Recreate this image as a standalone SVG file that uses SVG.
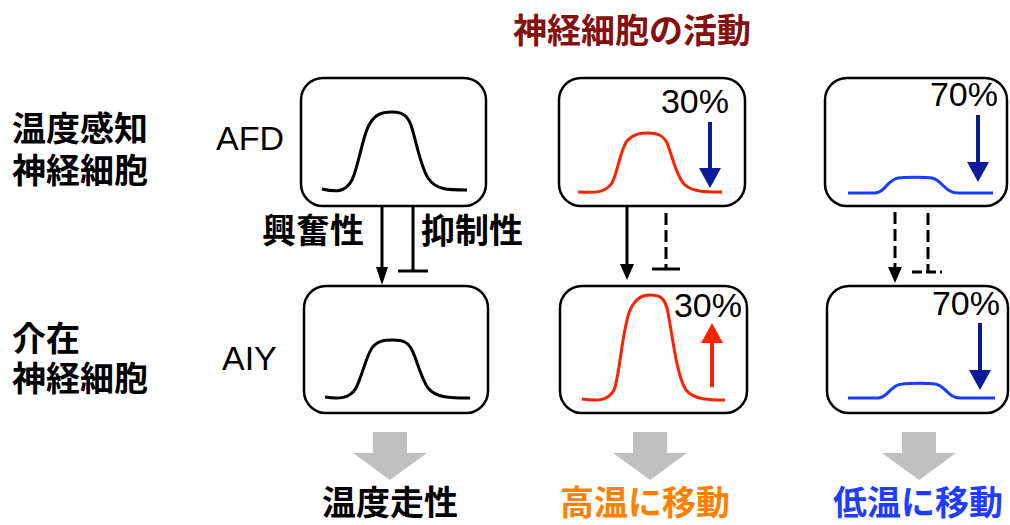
<svg xmlns="http://www.w3.org/2000/svg" width="1010" height="525" viewBox="0 0 1010 525">
<style>
.box{fill:#fff;stroke:#000;stroke-width:2.5}
.cj{font-family:"Noto Sans CJK JP","Noto Sans CJK SC",sans-serif;font-weight:bold;font-size:34px}
.lat{font-family:"Liberation Sans",Arial,sans-serif;font-size:34px;fill:#000}
.crv{fill:none;stroke-width:3}
.con{fill:none;stroke:#000;stroke-width:3}
.dash{stroke-dasharray:12 5}
.gray{fill:#c0c0c0}
</style>
<rect width="1010" height="525" fill="#fff"/>
<text class="cj" x="513" y="43" fill="#851010">神経細胞の活動</text>
<g id="row-labels">
<text class="cj" fill="#000"><tspan x="12" y="141">温度感知</tspan><tspan x="12" y="183">神経細胞</tspan></text>
<text class="cj" fill="#000"><tspan x="12" y="351">介在</tspan><tspan x="12" y="391">神経細胞</tspan></text>
</g>
<g id="AFD">
<text class="lat" x="216" y="150">AFD</text>
<rect class="box" x="301" y="78" width="185" height="128" rx="22"/>
<path class="crv" stroke="#000" d="M322,189 C335,192 345,193 352,180 C358,168 362,140 368,127 C374,114 382,112 392,112 C402,112 407,115 411,125 C416,140 420,165 428,178 C436,190 448,190 467,190"/>
</g>
<g id="AIY">
<text class="lat" x="222" y="370">AIY</text>
<rect class="box" x="304" y="286" width="184" height="127" rx="22"/>
<path class="crv" stroke="#000" d="M325,397 C338,399 350,399 356,388 C362,376 366,357 372,348 C377,341 383,340 393,340 C403,340 408,342 412,350 C417,360 421,378 428,388 C436,398 450,398 470,398"/>
</g>
<g id="AFD-hot">
<rect class="box" x="559" y="78" width="186" height="128" rx="22"/>
<path class="crv" stroke="#ff2200" d="M578,192 C595,193 605,193 612,183 C618,172 620,150 627,141 C633,134 640,133 648,133 C657,133 663,135 667,143 C672,155 676,175 684,184 C692,192 705,192 722,192"/>
<text class="lat" x="729" y="113" text-anchor="end">30%</text>
<line x1="710" y1="122" x2="710" y2="172" stroke="#0a1a9a" stroke-width="4"/>
<polygon points="699,168 721,168 710,188" fill="#0a1a9a"/>
</g>
<g id="AIY-hot">
<rect class="box" x="560" y="286" width="187" height="127" rx="22"/>
<path class="crv" stroke="#ff2200" d="M582,399 C598,401 608,401 614,390 C620,375 622,330 630,310 C636,298 642,295 650,295 C660,295 664,298 667,308 C672,330 676,375 686,390 C694,400 710,400 725,400"/>
<text class="lat" x="742" y="317" text-anchor="end">30%</text>
<line x1="712" y1="387" x2="712" y2="338" stroke="#ff2200" stroke-width="4"/>
<polygon points="701,343 723,343 712,323" fill="#ff2200"/>
</g>
<g id="AFD-cold">
<rect class="box" x="825" y="78" width="182" height="128" rx="22"/>
<path class="crv" stroke="#1a3cff" d="M848,193 L875,193 C885,193 887,180 898,178 C905,177 925,177 932,178 C942,180 945,193 958,193 L993,193"/>
<text class="lat" x="998" y="106" text-anchor="end">70%</text>
<line x1="978" y1="115" x2="978" y2="166" stroke="#0a1a9a" stroke-width="4"/>
<polygon points="967,162 989,162 978,182" fill="#0a1a9a"/>
</g>
<g id="AIY-cold">
<rect class="box" x="827" y="286" width="181" height="127" rx="22"/>
<path class="crv" stroke="#1a3cff" d="M848,398 L878,398 C888,398 890,385 902,384 C910,383 928,383 935,384 C945,385 948,398 960,398 L995,398"/>
<text class="lat" x="1000" y="315" text-anchor="end">70%</text>
<line x1="980" y1="323" x2="980" y2="374" stroke="#0a1a9a" stroke-width="4"/>
<polygon points="969,370 991,370 980,390" fill="#0a1a9a"/>
</g>
<g id="connectors">
<line class="con" x1="382" y1="207" x2="382" y2="270"/>
<polygon points="376,267 388,267 382,285" fill="#000"/>
<line class="con" x1="413" y1="207" x2="413" y2="271"/>
<line class="con" x1="398" y1="271" x2="428" y2="271"/>
<line class="con" x1="627" y1="207" x2="627" y2="265"/>
<polygon points="620,264 634,264 627,280" fill="#000"/>
<line class="con dash" x1="666" y1="213" x2="666" y2="268"/>
<line class="con" x1="652" y1="269" x2="680" y2="269"/>
<line class="con dash" x1="895" y1="212" x2="895" y2="268"/>
<polygon points="888,267 902,267 895,283" fill="#000"/>
<line class="con dash" x1="928" y1="213" x2="928" y2="271"/>
<line class="con" x1="912" y1="272" x2="942" y2="272" style="stroke-dasharray:10 4"/>
</g>
<g id="synapse-labels">
<text class="cj" x="262" y="243" fill="#000">興奮性</text>
<text class="cj" x="421" y="243" fill="#000">抑制性</text>
</g>
<g id="outcomes">
<polygon class="gray" points="373,432 407,432 407,453 427,453 390,480 353,453 373,453"/>
<polygon class="gray" points="633,432 667,432 667,453 687,453 650,480 613,453 633,453"/>
<polygon class="gray" points="902,432 936,432 936,453 956,453 919,480 882,453 902,453"/>
<text class="cj" x="322" y="515" fill="#000">温度走性</text>
<text class="cj" x="560" y="515" fill="#ff7f00">高温に移動</text>
<text class="cj" x="833" y="515" fill="#1f3cff">低温に移動</text>
</g>
</svg>
